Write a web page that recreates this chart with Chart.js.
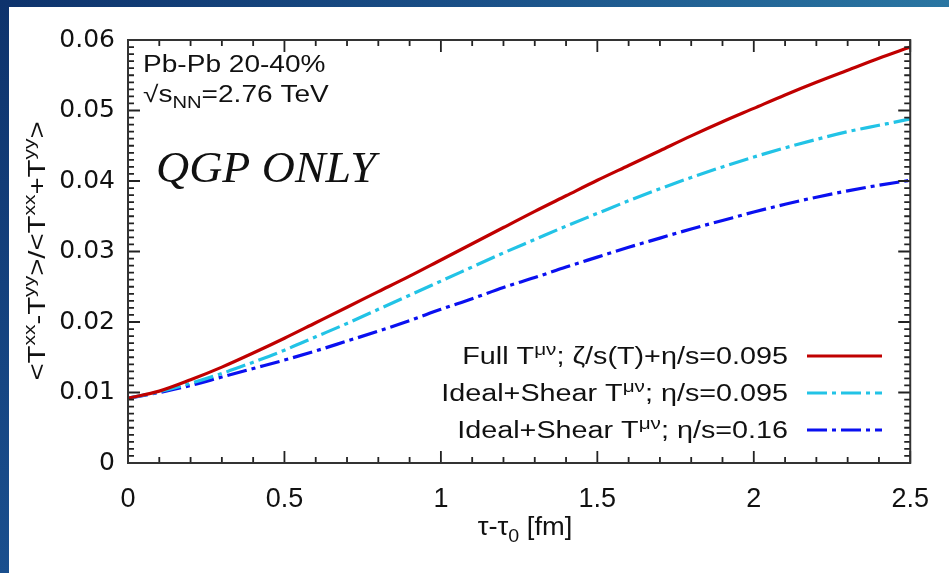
<!DOCTYPE html>
<html><head><meta charset="utf-8">
<script src="https://cdn.jsdelivr.net/npm/chart.js@4/dist/chart.umd.min.js"></script>
<style>
html,body{margin:0;padding:0;width:949px;height:573px;overflow:hidden;}
body{background:linear-gradient(to right,#0e336c 0%,#1a5088 50%,#2a76a2 100%);position:relative;}
#left{position:absolute;left:0;top:0;width:9px;height:573px;background:linear-gradient(to bottom,#0e336c,#1a4f8e);}
#panel{position:absolute;left:9px;top:7px;right:0;bottom:0;background:#fff;}
#wrap{position:absolute;left:0;top:0;width:949px;height:573px;}
</style></head><body>
<div id="left"></div><div id="panel"></div>
<div id="wrap"><canvas id="c" width="949" height="573"></canvas></div>
<script>
// ---- data ----
const tau = [0,0.1,0.2,0.3,0.4,0.5,0.6,0.7,0.8,0.9,1.0,1.1,1.2,1.3,1.4,1.5,1.6,1.7,1.8,1.9,2.0,2.1,2.2,2.3,2.4,2.5];
const fullBulk = [0.0092,0.0102,0.0118,0.0136,0.0156,0.0177,0.0199,0.0221,0.0243,0.0265,0.0288,0.0311,0.0334,0.0357,0.0379,0.0401,0.0422,0.0443,0.0464,0.0484,0.0503,0.0522,0.0540,0.0557,0.0574,0.0590];
const shear095 = [0.0092,0.0101,0.0113,0.0127,0.0143,0.0160,0.0179,0.0198,0.0218,0.0238,0.0258,0.0278,0.0298,0.0317,0.0336,0.0354,0.0372,0.0389,0.0405,0.0420,0.0434,0.0447,0.0459,0.0470,0.0479,0.0488];
const shear016 = [0.0092,0.0100,0.0110,0.0122,0.0134,0.0146,0.0159,0.0173,0.0187,0.0202,0.0218,0.0233,0.0249,0.0263,0.0278,0.0292,0.0306,0.0319,0.0332,0.0344,0.0356,0.0367,0.0377,0.0386,0.0394,0.0401];
const seriesLabels = ["Full T^{μν}; ζ/s(T)+η/s=0.095","Ideal+Shear T^{μν}; η/s=0.095","Ideal+Shear T^{μν}; η/s=0.16"];
const xTickValues = [0,0.5,1,1.5,2,2.5];
const yTickValues = [0,0.01,0.02,0.03,0.04,0.05,0.06];
const xAxisTitle = "τ-τ_{0} [fm]";
const yAxisTitle = "<T^{xx}-T^{yy}>/<T^{xx}+T^{yy}>";
const noteLines = ["Pb-Pb 20-40%","√s_{NN}=2.76 TeV"];
const bigNote = "QGP ONLY";

const colors = ['#c00000','#22c3e6','#0a10f0'];
const dashes = [[],[20,5,4,5],[20,5,4,5]];
const series = [fullBulk, shear095, shear016];

function rich(ctx, str, x, y, size, family, align, sx, style){
  const parts = str.split(/(\^\{[^}]*\}|_\{[^}]*\})/).filter(s=>s);
  const segs = parts.map(p=>{
    if(p.startsWith('^{')) return {t:p.slice(2,-1),s:size*0.72,dy:-size*0.4};
    if(p.startsWith('_{')) return {t:p.slice(2,-1),s:size*0.72,dy:size*0.25};
    return {t:p,s:size,dy:0};
  });
  let w=0;
  segs.forEach(g=>{ctx.font=`${style||''} ${g.s}px ${family}`; g.w=ctx.measureText(g.t).width; w+=g.w;});
  ctx.save(); ctx.translate(x,y); ctx.scale(sx,1);
  let cx = align==='right'? -w : align==='center'? -w/2 : 0;
  ctx.textBaseline='alphabetic'; ctx.textAlign='left'; ctx.fillStyle='#111';
  segs.forEach(g=>{ctx.font=`${style||''} ${g.s}px ${family}`; ctx.fillText(g.t,cx,g.dy); cx+=g.w;});
  ctx.restore();
}

const framePlugin = {
  id:'frame',
  afterDraw(chart){
    const ctx=chart.ctx, a=chart.chartArea, xs=chart.scales.x, ys=chart.scales.y;
    ctx.save();
    ctx.strokeStyle='#222'; ctx.lineWidth=1.8;
    ctx.beginPath();
    for(let i=0;i<=25;i++){
      const px=xs.getPixelForValue(i*0.1), len=(i%5===0)?12:6;
      ctx.moveTo(px,a.bottom); ctx.lineTo(px,a.bottom-len);
      ctx.moveTo(px,a.top); ctx.lineTo(px,a.top+len);
    }
    for(let i=0;i<=60;i++){
      const py=ys.getPixelForValue(i*0.001), len=(i%10===0)?12:6;
      ctx.moveTo(a.left,py); ctx.lineTo(a.left+len,py);
      ctx.moveTo(a.right,py); ctx.lineTo(a.right-len,py);
    }
    ctx.stroke();
    ctx.strokeStyle='#333'; ctx.lineWidth=2;
    ctx.strokeRect(a.left,a.top,a.right-a.left,a.bottom-a.top);
    // legend
    const fam='"Liberation Sans", Arial, sans-serif';
    const rowsY=[356,393,430];
    chart.data.datasets.forEach((ds,i)=>{
      rich(ctx, seriesLabels[i], 788, rowsY[i]+8, 23, fam, 'right', 1.25);
      ctx.save(); ctx.strokeStyle=ds.borderColor; ctx.lineWidth=3.2; ctx.setLineDash(ds.borderDash||[]);
      ctx.beginPath(); ctx.moveTo(807,rowsY[i]); ctx.lineTo(882,rowsY[i]); ctx.stroke(); ctx.restore();
    });
    // annotations
    rich(ctx, noteLines[0], 143, 72, 23, fam, 'left', 1.22);
    rich(ctx, noteLines[1], 143, 102, 23, fam, 'left', 1.22);
    rich(ctx, bigNote, 156, 182, 45, '"Liberation Serif", serif', 'left', 1.02, 'italic');
    // axis titles
    rich(ctx, xAxisTitle, 525, 535, 26, fam, 'center', 1.05);
    ctx.save(); ctx.translate(45, 251); ctx.rotate(-Math.PI/2);
    rich(ctx, yAxisTitle, 0, 0, 24, fam, 'center', 1.22);
    ctx.restore();
    ctx.restore();
  }
};

new Chart(document.getElementById('c'), {
  type:'line',
  data:{
    datasets: series.map((s,i)=>({
      label: seriesLabels[i],
      data: tau.map((t,k)=>({x:t,y:s[k]})),
      borderColor: colors[i], borderWidth: 3.2, borderDash: dashes[i],
      pointRadius:0, cubicInterpolationMode:'monotone', fill:false
    }))
  },
  options:{
    responsive:false, animation:false, devicePixelRatio:1,
    layout:{padding:{left:0,top:40,right:36,bottom:0}},
    plugins:{legend:{display:false},tooltip:{enabled:false}},
    scales:{
      x:{type:'linear',min:0,max:2.5,
        afterBuildTicks(s){s.ticks=xTickValues.map(v=>({value:v}));},
        afterFit(s){s.height=110;},
        grid:{display:false,drawTicks:false}, border:{display:false},
        ticks:{padding:20,color:'#111',font:{family:'"Liberation Sans", Arial, sans-serif',size:27},
          callback:v=>String(Math.round(v*10)/10)}},
      y:{type:'linear',min:0,max:0.06,
        afterBuildTicks(s){s.ticks=yTickValues.map(v=>({value:v}));},
        afterFit(s){s.width=128;},
        grid:{display:false,drawTicks:false}, border:{display:false},
        ticks:{padding:13,color:'#111',font:{family:'"DejaVu Sans", sans-serif',size:25},
          callback:v=>v===0?'0':v.toFixed(2)}}
    }
  },
  plugins:[framePlugin]
});
</script>
</body></html>
